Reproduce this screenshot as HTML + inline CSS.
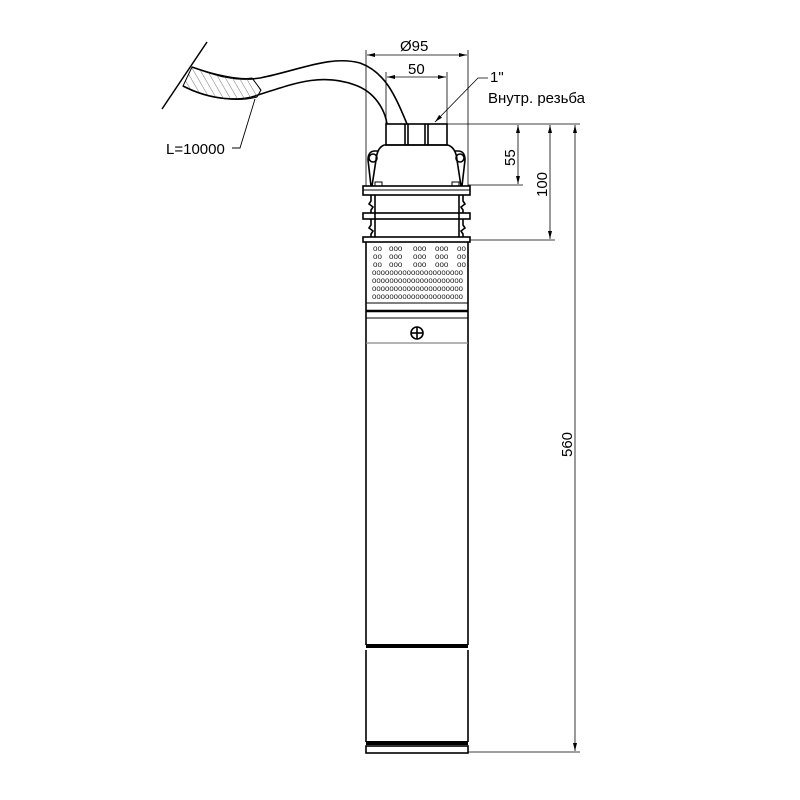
<!DOCTYPE html>
<html><head><meta charset="utf-8"><style>body{margin:0;background:#fff}svg{display:block}</style></head><body>
<svg width="800" height="800" viewBox="0 0 800 800" xmlns="http://www.w3.org/2000/svg" font-family="Liberation Sans, sans-serif">
<defs>
<pattern id="h" width="6" height="6" patternUnits="userSpaceOnUse" patternTransform="rotate(-30)"><line x1="0" y1="0" x2="0" y2="6" stroke="#555" stroke-width="0.8"/></pattern>
<marker id="a" markerWidth="8" markerHeight="6" refX="8" refY="3" orient="auto-start-reverse" markerUnits="userSpaceOnUse"><path d="M0,1 L8,3 L0,5z" fill="#000"/></marker>
</defs>
<g fill="none" stroke="#000" stroke-width="1.6">
<line x1="207" y1="42" x2="162" y2="109" stroke-width="1.5"/>
<path d="M192,67 C215,75 235,82 260,78 C300,70 330,55 360,63 C385,72 395,95 407,124"/>
<path d="M183,86 C210,100 240,102 258,95 C290,85 320,72 355,85 C375,92 385,110 387,124"/>
<path d="M192,67 C215,75 240,80 252,78 L261,90 L257,97 C240,102 210,100 183,86 Z" fill="url(#h)" stroke-width="1"/>
<path d="M232,148 L240,148 L255,99" stroke-width="0.9"/>
<rect x="386" y="124" width="61" height="21"/>
<line x1="405" y1="124" x2="405" y2="145"/><line x1="408" y1="124" x2="408" y2="145"/>
<line x1="425" y1="124" x2="425" y2="145"/><line x1="428" y1="124" x2="428" y2="145"/>
<path d="M384,145 Q377,148 376,160 L372,186 M448,145 Q456,148 457,160 L461,186"/>
<line x1="384" y1="145" x2="448" y2="145"/>
<path d="M371,186 L368,160 Q368,151 375,151 L378,151"/>
<path d="M462,186 L465,160 Q465,151 458,151 L455,151"/>
<circle cx="373" cy="158" r="4"/><circle cx="460" cy="158" r="4"/>
<rect x="375" y="182" width="7" height="4" stroke-width="1"/><rect x="452" y="182" width="7" height="4" stroke-width="1"/>
<rect x="363" y="186" width="107" height="9"/>
<line x1="363" y1="190" x2="470" y2="190" stroke-width="1"/>
<path d="M371,195 L371,201 L369,204 L373,207 L371,210 L371,213 M371,219 L371,225 L369,228 L373,231 L371,234 L371,237"/>
<path d="M463,195 L463,201 L465,204 L461,207 L463,210 L463,213 M463,219 L463,225 L465,228 L461,231 L463,234 L463,237"/>
<line x1="375" y1="195" x2="375" y2="237"/><line x1="459" y1="195" x2="459" y2="237"/>
<rect x="363" y="213" width="107" height="6"/>
<rect x="363" y="237" width="107" height="5"/>
<path d="M366,242 L366,645 M468,242 L468,645"/>
<line x1="366" y1="303" x2="468" y2="303" stroke-width="1"/>
<line x1="366" y1="311" x2="468" y2="311" stroke-width="2.5"/>
<line x1="366" y1="318" x2="468" y2="318" stroke-width="1"/>
<line x1="366" y1="343" x2="468" y2="343" stroke="#888" stroke-width="1.2"/>
<circle cx="417" cy="333" r="6" stroke-width="1.6"/>
<line x1="411" y1="333" x2="423" y2="333" stroke-width="1.6"/><line x1="417" y1="327" x2="417" y2="339" stroke-width="1.6"/>
<line x1="366" y1="646" x2="468" y2="646" stroke-width="4"/>
<path d="M366,650 L366,742 M468,650 L468,742"/>
<line x1="366" y1="743" x2="468" y2="743" stroke-width="4"/>
<rect x="366" y="746" width="102" height="7"/>
<g stroke-width="0.8">
<line x1="366" y1="50" x2="366" y2="186"/><line x1="468" y1="50" x2="468" y2="186"/>
<line x1="367" y1="55" x2="467" y2="55" marker-start="url(#a)" marker-end="url(#a)"/>
<line x1="386" y1="72" x2="386" y2="124"/><line x1="447" y1="72" x2="447" y2="124"/>
<line x1="387" y1="77" x2="446" y2="77" marker-start="url(#a)" marker-end="url(#a)"/>
<line x1="447" y1="124" x2="580" y2="124"/>
<line x1="468" y1="185" x2="523" y2="185"/>
<line x1="470" y1="240" x2="555" y2="240"/>
<line x1="468" y1="752" x2="580" y2="752"/>
<line x1="518" y1="125" x2="518" y2="184" marker-start="url(#a)" marker-end="url(#a)"/>
<line x1="550" y1="125" x2="550" y2="239" marker-start="url(#a)" marker-end="url(#a)"/>
<line x1="575" y1="125" x2="575" y2="751" marker-start="url(#a)" marker-end="url(#a)"/>
<path d="M488,78 L478,78 L435,122" marker-end="url(#a)"/>
</g>
</g>
<g font-size="8" fill="#222">
<g>
<text y="251"><tspan x="373">oo</tspan><tspan x="389">ooo</tspan><tspan x="413">ooo</tspan><tspan x="435">ooo</tspan><tspan x="457">oo</tspan></text>
<text y="259"><tspan x="373">oo</tspan><tspan x="389">ooo</tspan><tspan x="413">ooo</tspan><tspan x="435">ooo</tspan><tspan x="457">oo</tspan></text>
<text y="267"><tspan x="373">oo</tspan><tspan x="389">ooo</tspan><tspan x="413">ooo</tspan><tspan x="435">ooo</tspan><tspan x="457">oo</tspan></text>
</g>
<text x="372" y="275" textLength="91" lengthAdjust="spacingAndGlyphs">ooooooooooooooooooooo</text>
<text x="372" y="283" textLength="91" lengthAdjust="spacingAndGlyphs">ooooooooooooooooooooo</text>
<text x="372" y="291" textLength="91" lengthAdjust="spacingAndGlyphs">ooooooooooooooooooooo</text>
<text x="372" y="299" textLength="91" lengthAdjust="spacingAndGlyphs">ooooooooooooooooooooo</text>
</g>
<g font-size="15" fill="#000">
<text x="400" y="51">Ø95</text>
<text x="408" y="74">50</text>
<text x="490" y="82">1"</text>
<text x="488" y="103">Внутр. резьба</text>
<text x="166" y="154">L=10000</text>
<text transform="translate(515,166) rotate(-90)">55</text>
<text transform="translate(547,197) rotate(-90)">100</text>
<text transform="translate(572,457) rotate(-90)">560</text>
</g>
</svg>
</body></html>
